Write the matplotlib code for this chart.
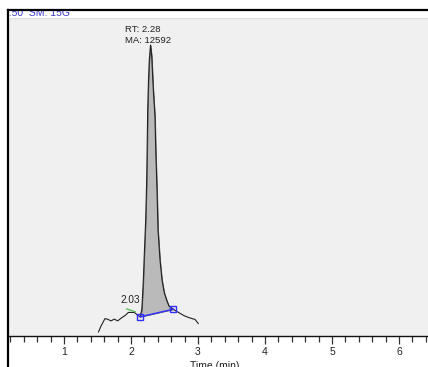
import numpy as np
import matplotlib
matplotlib.use("Agg")
import matplotlib.pyplot as plt
from matplotlib.lines import Line2D
from matplotlib.ticker import MultipleLocator

plt.rcParams['font.family'] = ['Liberation Sans', 'DejaVu Sans']

# ---- data (time in min, relative abundance, apex = 100) ----
trace_time = [1.515, 1.552, 1.612, 1.657, 1.701, 1.751, 1.801, 1.851, 1.921, 1.960,
              2.049, 2.109, 2.134, 2.160, 2.169, 2.184, 2.201, 2.219, 2.234, 2.243,
              2.249, 2.261, 2.273, 2.291, 2.309, 2.333, 2.358, 2.369, 2.388, 2.403,
              2.433, 2.463, 2.497, 2.537, 2.567, 2.631, 2.687, 2.731, 2.791, 2.855,
              2.910, 2.955, 3.004]
trace_value = [1.4, 3.4, 6.0, 5.7, 5.2, 5.8, 5.2, 6.1, 7.2, 8.1,
               8.1, 7.0, 6.6, 8.9, 12.4, 19.2, 29.6, 39.9, 53.6, 67.4,
               77.7, 88.0, 94.9, 100.0, 96.2, 84.5, 75.3, 63.9, 50.2, 36.4,
               26.1, 19.2, 14.8, 12.0, 10.3, 9.2, 8.4, 7.8, 7.0, 6.4,
               6.0, 5.7, 4.3]
peak_start = (2.134, 6.6)
peak_end = (2.631, 9.2)
minor_peak_seg_time = [1.937, 2.061]
minor_peak_seg_value = [9.3, 8.35]
minor_peak_label = "2.03"
main_rt = "RT: 2.28"
main_area = "MA: 12592"
header_text = "0.50  SM: 15G"
x_ticks = [1, 2, 3, 4, 5, 6]
x_label = "Time (min)"

W, H = 428, 367
fig = plt.figure(figsize=(W / 100, H / 100), dpi=100)
fig.patch.set_facecolor('white')

def fx(px):
    return px / W

def fy(py):
    return 1 - py / H

# header text axis (clipped strip)
hax = fig.add_axes([fx(9), fy(17), fx(W - 9), (17 - 11) / H])
hax.set_axis_off()
hax.text(-0.014, -0.1, header_text, transform=hax.transAxes, fontsize=7.5,
         color='#3a3ac8', ha='left', va='bottom', clip_on=True)

ax = fig.add_axes([fx(9), fy(336), fx(W - 9), (336 - 18) / H])
ax.set_facecolor('#f0f0f0')
ax.set_xlim(0.179, 6.433)
ax.set_ylim(0, 109.3)
for s in ['top', 'right', 'left']:
    ax.spines[s].set_visible(False)
ax.spines['bottom'].set_color('#111111')
ax.spines['bottom'].set_linewidth(1.0)
ax.set_yticks([])
ax.xaxis.set_major_locator(MultipleLocator(1))
ax.xaxis.set_minor_locator(MultipleLocator(0.2))
ax.set_xticks(x_ticks)
ax.set_xticklabels([str(t) for t in x_ticks])
ax.tick_params(axis='x', which='major', length=6, width=0.9, color='#333333',
               labelsize=7.5, pad=2, labelcolor='#222222')
ax.tick_params(axis='x', which='minor', length=4, width=0.9, color='#333333')

t = np.array(trace_time)
v = np.array(trace_value)

# peak fill
mask = (t >= peak_start[0]) & (t <= peak_end[0])
tp = t[mask]
vp = v[mask]
base = np.interp(tp, [peak_start[0], peak_end[0]], [peak_start[1], peak_end[1]])
ax.fill_between(tp, base, vp, color='#bababa', edgecolor='#555555', linewidth=0.6, zorder=2)

# trace
ax.plot(t, v, color='#222222', lw=0.8, zorder=3)

# minor peak green segment
ax.plot(minor_peak_seg_time, minor_peak_seg_value, color='#60c060', lw=1.0, zorder=3)

# baseline
ax.plot([peak_start[0], peak_end[0]], [peak_start[1], peak_end[1]], color='#3030ff', lw=1.0, zorder=4)
ax.plot([peak_start[0], peak_end[0]], [peak_start[1], peak_end[1]], ls='none', marker='s',
        ms=5, mfc='none', mec='#3030ff', mew=1.0, zorder=5)

# labels
ax.text(1.985, 10.6, minor_peak_label, fontsize=7.2, color='#222222', ha='center', va='bottom')
ax.text(1.915, 105.5, main_rt, fontsize=6.8, color='#222222', ha='left', va='center')
ax.text(1.915, 101.5, main_area, fontsize=6.8, color='#222222', ha='left', va='center')

fig.text(fx(215), fy(361), x_label, fontsize=7.5, color='#222222', ha='center', va='top')

# frame lines
fig.add_artist(Line2D([fx(8), 1], [fy(10), fy(10)], transform=fig.transFigure,
                      color='black', lw=1.6))
fig.add_artist(Line2D([fx(8), fx(8)], [fy(10), 0], transform=fig.transFigure,
                      color='black', lw=1.6))
fig.add_artist(Line2D([fx(9), 1], [fy(17.5), fy(17.5)], transform=fig.transFigure,
                      color='#dddddd', lw=0.8))

fig.savefig('out.png', dpi=100, facecolor='white')
